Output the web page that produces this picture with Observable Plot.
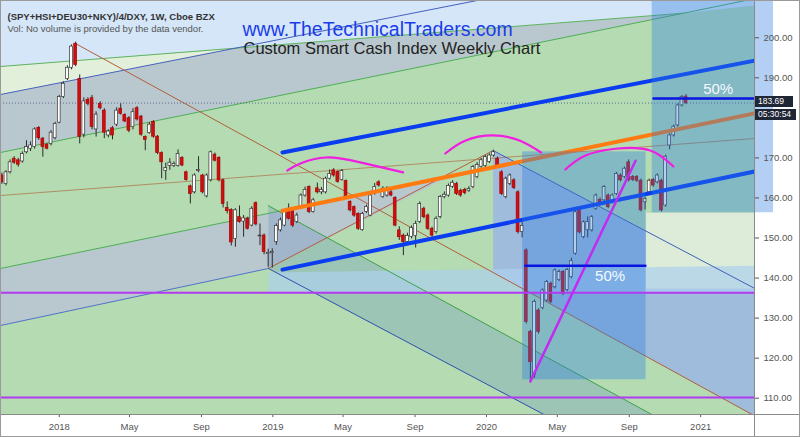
<!DOCTYPE html>
<html><head><meta charset="utf-8">
<script src="https://cdn.jsdelivr.net/npm/d3@7"></script>
<script src="https://cdn.jsdelivr.net/npm/@observablehq/plot@0.6"></script>
<style>
body{margin:0;background:#fff;font-family:"Liberation Sans",Arial,sans-serif}
#wrap{position:relative;width:800px;height:437px;overflow:hidden}
.lbl{position:absolute;left:755px;width:38px;height:11px;background:#1f2636;color:#fff;font:8.5px/11px "Liberation Sans",Arial,sans-serif;padding-left:3px;box-sizing:border-box;overflow:hidden}
</style></head><body><div id="wrap"></div>
<script>
// ---------- weekly candles (first week 2017-09-25) ----------
const firstWeek = "2017-09-25";
const opens = [165.6,163.5,166.4,169.8,169.4,169.1,171.4,172.3,172.7,177.5,
174.8,173.3,173.5,174.9,178.8,185.2,189.7,192.5,198.5,189.7,
175.8,184.5,184.9,177.1,183.5,181.8,175.6,177.4,178.3,182.3,
180.7,179.9,177.7,182.4,180.3,175.2,176.2,179.0,175.3,171.2,
166.7,168.0,168.0,168.0,170.0,166.4,162.9,161.4,166.7,165.6,
160.4,164.4,170.8,170.0,164.4,157.5,157.0,149.8,155.2,154.1,
154.8,153.1,158.7,150.4,150.6,146.0,146.2,149.0,151.9,153.1,
157.3,156.9,154.0,157.7,160.6,162.7,156.5,162.4,161.4,161.4,
164.8,166.9,166.5,164.5,164.2,159.0,157.7,156.0,152.0,156.5,
155.6,161.0,163.9,160.2,160.6,161.4,160.0,151.9,150.6,149.0,
150.3,150.5,154.0,157.3,155.6,152.3,151.5,155.2,160.2,160.6,
162.8,163.5,161.8,162.0,161.8,162.7,165.2,167.8,168.0,169.0,
170.6,169.8,166.4,160.2,163.5,164.4,161.4,151.5,146.9,126.5,
115.7,131.9,132.5,134.4,138.6,137.7,139.5,141.5,137.0,140.2,
146.1,156.9,150.2,152.0,151.9,157.3,159.5,159.4,160.6,158.9,
161.0,165.6,165.2,168.9,165.2,165.2,164.3,158.9,161.4,164.5,
163.9,164.3,158.1,173.1,175.6,178.1,183.1,185.3];
const closes = [163.9,166.4,168.9,168.8,168.3,171.0,172.7,173.1,177.1,174.9,
172.7,172.3,176.3,178.5,185.2,188.5,192.5,197.8,193.2,175.2,
184.1,183.5,177.7,180.8,182.4,176.3,176.6,175.6,181.8,181.0,
179.1,176.8,181.4,179.6,175.8,174.5,178.3,175.3,171.2,168.9,
167.5,168.8,168.5,171.0,168.1,164.5,161.0,165.6,167.0,161.4,
165.6,171.4,169.3,164.4,158.5,156.7,148.9,156.9,154.0,154.9,
152.3,157.3,153.4,150.6,146.5,146.3,146.5,153.0,154.4,156.5,
154.8,153.1,155.6,160.6,162.0,156.5,159.4,161.4,162.0,164.8,
166.0,165.6,164.0,166.7,160.2,156.9,155.6,152.3,156.0,157.7,
160.6,162.7,163.1,162.3,162.3,160.6,153.1,150.2,149.0,150.5,
152.5,153.5,158.5,155.2,152.3,150.6,154.8,160.2,160.8,163.0,
163.8,161.0,160.6,161.2,162.2,167.7,168.2,169.4,170.2,170.6,
171.4,168.1,161.0,164.8,165.6,162.5,151.5,153.0,129.0,119.0,
134.0,126.5,136.9,139.0,134.0,141.9,141.5,136.0,142.0,144.2,
156.4,151.4,153.9,154.0,155.2,160.6,158.9,162.7,157.7,160.6,
166.0,164.4,167.3,164.4,164.5,164.3,156.9,159.8,164.3,163.1,
165.6,156.9,170.3,175.6,177.8,183.1,185.2,183.69];
const highs = [166.2,166.8,169.5,170.3,169.9,171.5,174.3,174.0,177.5,177.8,
175.1,173.6,176.8,178.9,185.6,189.0,193.0,198.2,198.9,190.7,
185.0,185.0,185.6,181.5,184.0,182.3,177.0,177.8,182.5,183.5,
181.0,180.3,182.3,182.8,180.6,175.5,178.8,179.3,175.6,171.5,
168.7,169.8,169.0,172.0,170.3,166.7,163.2,166.0,170.3,165.9,
166.0,171.7,171.2,170.3,164.7,159.0,157.3,157.3,158.0,155.6,
155.2,157.8,159.0,153.5,151.0,147.2,147.3,153.5,155.0,157.0,
158.5,157.2,156.2,161.0,162.7,163.0,159.9,163.7,162.6,165.2,
167.0,167.3,166.8,167.1,164.5,159.3,158.0,156.3,156.4,158.2,
161.0,163.6,164.3,162.8,162.8,162.5,160.3,152.8,151.0,151.2,
153.0,154.2,159.0,157.7,156.0,152.7,155.3,160.6,161.5,163.5,
164.3,163.9,162.2,162.4,162.8,168.1,168.8,169.9,170.6,171.0,
171.9,170.2,166.8,165.2,166.0,164.8,161.8,154.5,147.3,127.0,
134.5,132.3,137.3,139.4,139.0,142.3,142.0,141.9,142.4,145.0,
156.9,157.3,154.3,155.3,155.6,161.0,160.0,163.1,161.0,161.0,
166.4,166.0,167.7,169.5,165.6,165.6,164.7,160.2,164.7,164.9,
166.0,164.7,170.7,176.0,178.2,183.5,185.6,185.8];
const lows = [163.4,163.0,166.0,168.4,167.7,168.7,171.0,171.6,172.2,174.4,
170.2,172.0,173.0,174.5,178.5,184.8,189.3,192.0,192.8,173.5,
175.0,183.0,177.0,175.2,182.0,174.8,175.0,174.5,177.8,180.7,
178.8,176.3,177.0,179.2,175.4,171.8,175.9,174.9,170.8,164.8,
164.4,166.9,167.6,167.7,167.8,164.2,158.5,161.0,166.3,161.0,
160.0,164.0,169.0,164.0,157.5,156.0,148.0,147.7,153.7,150.2,
152.0,152.8,153.0,148.1,145.8,142.7,142.5,148.2,151.5,152.8,
154.5,152.6,153.6,157.3,160.2,156.1,156.2,161.0,160.8,161.0,
164.5,165.2,163.7,164.2,159.8,156.5,155.2,151.9,151.7,156.1,
155.3,160.7,162.7,159.9,160.2,160.3,152.8,149.4,145.6,148.3,
149.8,147.5,153.6,154.8,151.9,150.2,151.0,154.8,159.8,160.2,
162.4,160.6,160.2,160.8,161.4,162.3,164.8,167.4,167.6,168.6,
170.2,167.8,160.6,159.8,163.1,162.1,151.0,150.0,128.5,114.0,
115.0,126.0,132.1,134.0,133.6,137.3,139.1,135.6,136.6,139.8,
145.7,151.0,149.8,150.0,151.5,156.9,158.5,159.0,157.3,158.5,
160.6,164.0,164.8,164.0,164.1,163.9,156.5,157.0,161.0,162.7,
163.5,156.5,157.7,172.0,175.2,177.7,182.7,183.3];
const lastPrice = 183.69;
const countdown = "05:30:54";

// ---------- axis (180.00 is hidden behind the price labels) ----------
const yTicks = [110,120,130,140,150,160,170,190,200];
const xTicks = ["2018-01-01","2018-05-01","2018-09-01","2019-01-01","2019-05-01","2019-09-01","2020-01-01","2020-05-01","2020-09-01","2021-01-01"];
const monthNames = ["Jan","Feb","Mar","Apr","May","Jun","Jul","Aug","Sep","Oct","Nov","Dec"];
const xRange = [2017.725, 2021.252];   // decimal years visible
const yRange = [105.93, 209.3];

// ---------- drawings: anchors as [decimal year, price] ----------
const bgTopLight = [[2017.725,209.3],[2021.252,209.3],[2021.252,208.05],[2020.920,206.13],[2017.725,192.82]];
const bgCream    = [[2017.725,192.82],[2018.824,197.32],[2017.725,185.83]];
const bgGrayUp   = [[2017.725,185.83],[2018.824,197.32],[2020.920,206.13],[2017.725,171.35]];
const bgGrayLow  = [[2017.725,142.39],[2019.045,156.87],[2019.854,166.1],[2018.979,142.39],[2017.725,128.15]];
const bgBlueRight= [[2020.031,171.85],[2021.252,137.43],[2021.252,105.6],[2020.031,141.4]];
const bgLightBand= [[2018.979,141.4],[2021.252,143.1],[2021.252,136.4],[2018.979,136.4]];
const bgFallChan = [[2018.979,158.07],[2021.252,91.97],[2021.252,78.07],[2018.979,142.39]];
const bgPaleRight= [[2020.745,156.3],[2021.252,156.3],[2021.252,137.4],[2020.745,137.4]];

const thinGreen1 = [[2017.725,192.82],[2020.920,206.13]];
const thinBlue1  = [[2017.725,185.83],[2019.956,209.3]];
const thinGreen2 = [[2017.725,171.35],[2021.211,209.3]];
const thinGreen3 = [[2017.725,142.39],[2019.045,156.87]];
const thinBlue2  = [[2017.725,128.15],[2018.979,142.39]];
const brownPeak  = [[2018.076,198.56],[2021.252,105.6]];
const brownLow   = [[2018.979,142.39],[2020.031,171.85]];
const brownFlat  = [[2017.725,160.6],[2021.252,174.85]];
const bluePeak   = [[2020.031,171.85],[2021.252,137.43]];
const greenFall  = [[2018.979,158.07],[2021.252,91.97]];
const blueFall   = [[2018.979,142.39],[2021.252,78.07]];

const upperBlue  = [[2019.045,171.35],[2021.252,194.3]];
const lowerBlue  = [[2019.045,142.1],[2021.252,166.6]];
const orangeMid  = [[2019.045,156.8],[2021.252,181.1]];

const boxLow  = {t1:2020.169, t2:2020.745, p1:114.6, p2:171.5, mid:143.1, m1:2020.181, m2:2020.742};
const boxHigh = {t1:2020.774, t2:2021.341, p1:156.3, p2:213.3, mid:184.8, m1:2020.780, m2:2021.252};

const arc1 = [[2019.068,166.85],[2019.129,168.6],[2019.250,170.1],[2019.409,168.9],[2019.610,166.4]];
const arc2 = [[2019.807,171.1],[2019.900,174.3],[2020.031,175.6],[2020.157,174.3],[2020.255,171.35]];
const arc3 = [[2020.368,167.1],[2020.462,170.6],[2020.611,172.35],[2020.765,171.85],[2020.873,167.85]];
const magentaDiag = [[2020.205,114.2],[2020.696,169.3]];
const magentaLevels = [136.3, 110.2];

// ---------- helpers ----------
function yd(t){const y=Math.floor(t);const s=Date.UTC(y,0,1),e=Date.UTC(y+1,0,1);return new Date(s+(t-y)*(e-s));}
const pts = a => a.map(([t,v])=>({x:yd(t),y:v}));
const DAY = 864e5;
const w0 = new Date(firstWeek+"T00:00:00Z");
const candles = opens.map((o,i)=>({date:new Date(+w0+i*7*DAY),o,c:closes[i],h:highs[i],l:lows[i],up:closes[i]>=o}));

const polyMark = (a, fill, op=1) => Plot.line(pts(a), {x:"x", y:"y", fill, fillOpacity:op, stroke:"none", curve:"linear-closed", clip:true});
const lineMark = (a, stroke, w=1, extra={}) => Plot.line(pts(a), {x:"x", y:"y", stroke, strokeWidth:w, clip:true, ...extra});
const boxMark = b => Plot.rect([b], {x1:d=>yd(d.t1), x2:d=>yd(d.t2), y1:"p1", y2:"p2", fill:"#2d7de0", fillOpacity:0.36});
const midMark = b => lineMark([[b.m1,b.mid],[b.m2,b.mid]], "#0a14e0", 2.5);

const chart = Plot.plot({
  width:800, height:437, marginLeft:0, marginRight:46, marginTop:0, marginBottom:23,
  style:{background:"#fff", fontFamily:"Liberation Sans, Arial, sans-serif"},
  x:{type:"utc", domain:[yd(xRange[0]), yd(xRange[1])]},
  y:{domain:yRange},
  marks:[
    Plot.rect([0],{x1:yd(xRange[0]),x2:yd(xRange[1]),y1:yRange[0],y2:yRange[1],fill:"#b4dbb2"}),
    polyMark(bgTopLight,"#d4e6f8"),
    polyMark(bgCream,"#e2efdb"),
    polyMark(bgGrayUp,"#b9c8ce"),
    polyMark(bgGrayLow,"#b9c8ce"),
    polyMark(bgFallChan,"#4f78c0",0.22),
    polyMark(bgBlueRight,"#9db8e1",0.9),
    polyMark(bgPaleRight,"#dcecd9"),
    polyMark(bgLightBand,"#acd0ec",0.7),
    lineMark(thinGreen1,"#5fb45f"),
    lineMark(thinBlue1,"#4660bf"),
    lineMark(thinGreen2,"#4fae55"),
    lineMark(thinGreen3,"#4fae55"),
    lineMark(thinBlue2,"#4f73c9"),
    lineMark(brownPeak,"#b0603a"),
    lineMark(brownLow,"#b0603a"),
    lineMark(brownFlat,"#b07a50",0.8),
    lineMark(bluePeak,"#3f5fb8"),
    lineMark(greenFall,"#3fa04a"),
    lineMark(blueFall,"#2f50b0"),
    Plot.ruleY([lastPrice],{stroke:"#5a6a90",strokeDasharray:"1,2",strokeWidth:1}),
    // candles
    Plot.ruleX(candles,{x:"date",y1:"l",y2:"h",stroke:"#2a2a2a",strokeWidth:1}),
    Plot.rect(candles,{x1:d=>new Date(+d.date-2.4*DAY),x2:d=>new Date(+d.date+2.4*DAY),y1:"o",y2:"c",
      fill:d=>d.up?"#ffffff":"#cc1010",stroke:d=>d.up?"#333":"#b00000",strokeWidth:0.7}),
    // thick channel
    lineMark(upperBlue,"#0a3cf0",4),
    lineMark(lowerBlue,"#0a3cf0",4),
    lineMark(orangeMid,"#ff7a10",4),
    // boxes
    boxMark(boxLow), boxMark(boxHigh),
    Plot.ruleY(magentaLevels,{stroke:"#b23af0",strokeWidth:2}),
    lineMark(arc1,"#f01ee0",2.2,{curve:"natural"}),
    lineMark(arc2,"#f01ee0",2.2,{curve:"natural"}),
    lineMark(arc3,"#f01ee0",2.2,{curve:"natural"}),
    lineMark(magentaDiag,"#c12cf0",2.5),
    midMark(boxLow), midMark(boxHigh),
    Plot.text([boxLow],{x:d=>yd(d.m2-0.165),y:d=>d.mid,dy:11,text:()=>"50%",fill:"#f4f8ff",fontSize:15}),
    Plot.text([boxHigh],{x:d=>yd(d.m2-0.17),y:d=>d.mid,dy:-9,text:()=>"50%",fill:"#f4f8ff",fontSize:15}),
    // axes
    Plot.axisY({anchor:"right",ticks:yTicks,tickFormat:d=>d.toFixed(2),tickSize:4,color:"#555",fontSize:9.5}),
    Plot.axisX({ticks:xTicks.map(s=>new Date(s+"T00:00:00Z")),tickFormat:d=>d.getUTCMonth()===0?String(d.getUTCFullYear()):monthNames[d.getUTCMonth()],tickSize:3,color:"#555",fontSize:9.5}),
    // header texts
    Plot.text(["(SPY+HSI+DEU30+NKY)/4/DXY, 1W, Cboe BZX"],{frameAnchor:"top-left",dx:7,dy:13,textAnchor:"start",fontSize:9.5,fontWeight:"bold",fill:"#333"}),
    Plot.text(["Vol: No volume is provided by the data vendor."],{frameAnchor:"top-left",dx:7,dy:25,textAnchor:"start",fontSize:9.5,fill:"#555"}),
    Plot.text(["www.TheTechnicalTraders.com"],{frameAnchor:"top-left",dx:242,dy:22,textAnchor:"start",fontSize:19.5,fill:"#1a3ce8"}),
    Plot.text(["Custom Smart Cash Index Weekly Chart"],{frameAnchor:"top-left",dx:243,dy:42,textAnchor:"start",fontSize:16.5,fill:"#222"})
  ]
});
const wrap = document.getElementById("wrap");
wrap.appendChild(chart);
const add = (html)=>{const d=document.createElement("div");d.innerHTML=html;wrap.appendChild(d.firstChild);};
add('<div style="position:absolute;left:754px;top:0;width:1px;height:437px;background:#8a8a8a"></div>');
add('<div style="position:absolute;left:0;top:414px;width:800px;height:1px;background:#8a8a8a"></div>');
add('<div style="position:absolute;left:0;top:0;width:800px;height:437px;border:1px solid #9a9a9a;box-sizing:border-box"></div>');
add('<div class="lbl" style="top:96px">'+lastPrice.toFixed(2)+'</div>');
add('<div class="lbl" style="top:108.5px;width:41px">'+countdown+'</div>');
</script></body></html>
